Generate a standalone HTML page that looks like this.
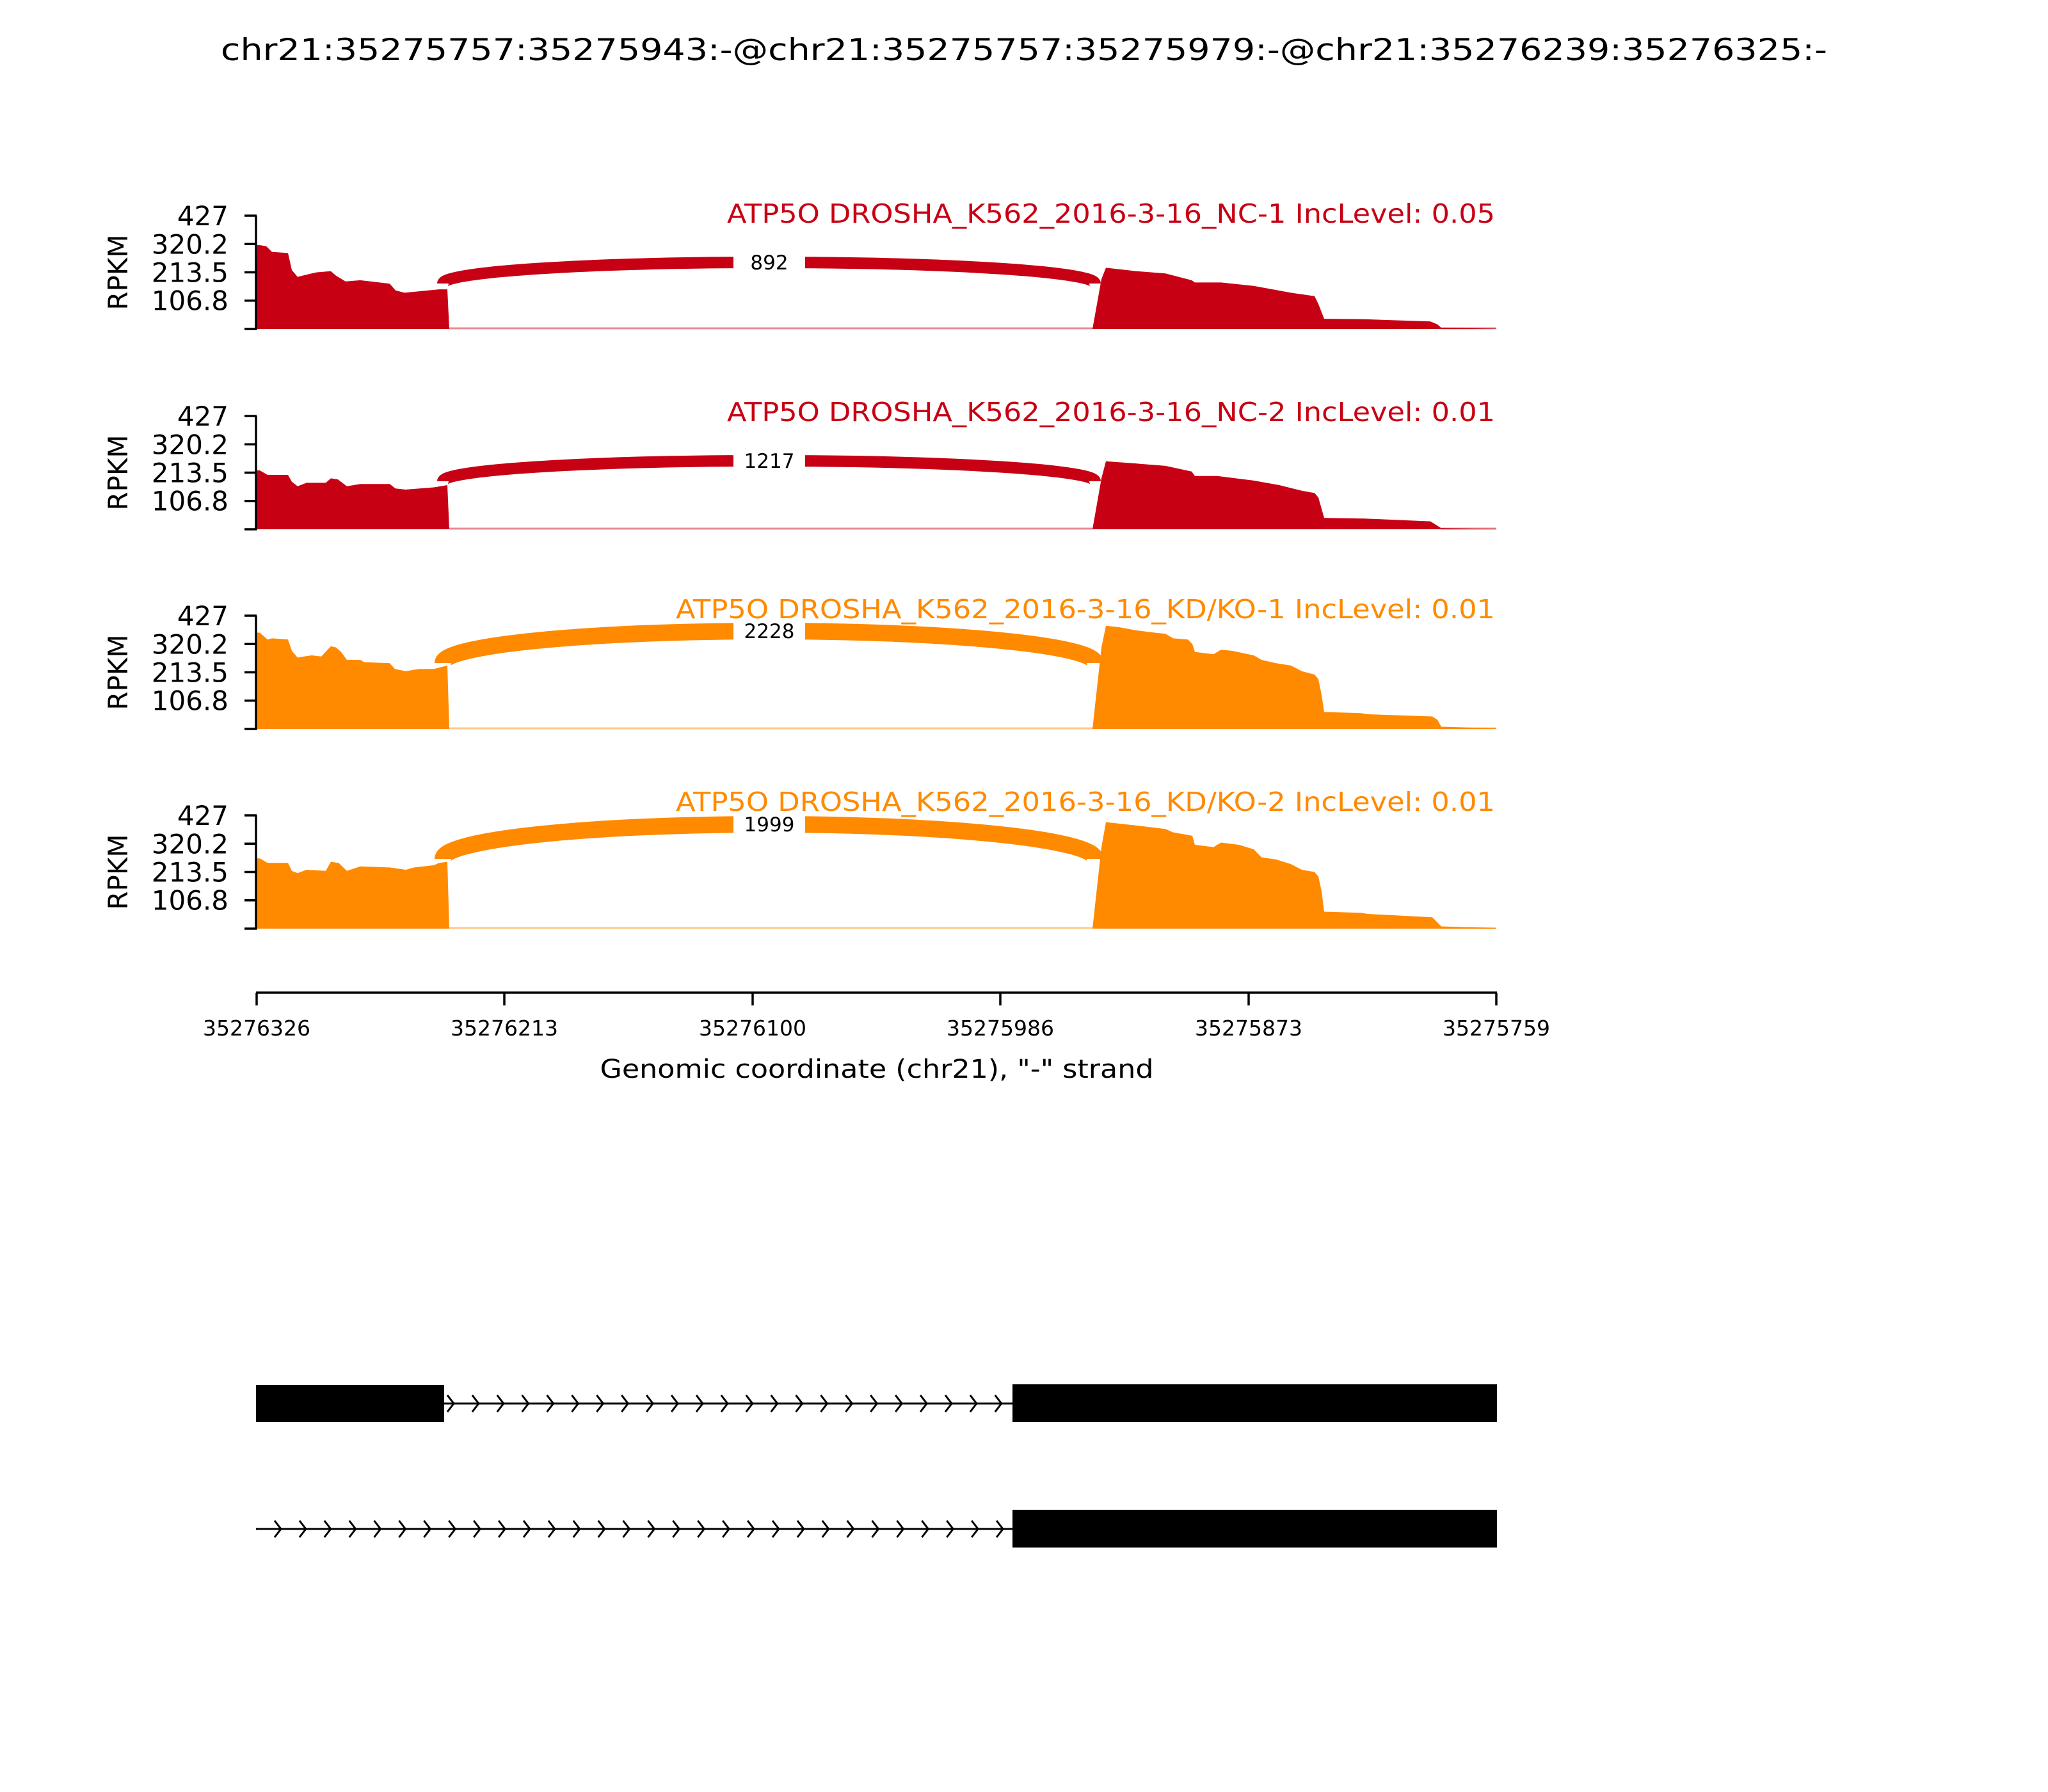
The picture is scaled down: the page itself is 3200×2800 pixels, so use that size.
<!DOCTYPE html>
<html><head><meta charset="utf-8"><style>
html,body{margin:0;padding:0;background:#fff;}
svg{display:block;}
text{font-family:"DejaVu Sans","Liberation Sans",sans-serif;}
</style></head><body>
<svg id="s" xmlns="http://www.w3.org/2000/svg" width="3200" height="2800" viewBox="0 0 3200 2800">
<rect width="3200" height="2800" fill="#fff"/>
<text x="1600" y="94" font-size="47" text-anchor="middle" textLength="2510" lengthAdjust="spacingAndGlyphs">chr21:35275757:35275943:-@chr21:35275757:35275979:-@chr21:35276239:35276325:-</text>
<g id="panels"></g>
<text x="2336" y="348" font-size="41" fill="#c80014" text-anchor="end" textLength="1200" lengthAdjust="spacingAndGlyphs">ATP5O DROSHA_K562_2016-3-16_NC-1 IncLevel: 0.05</text>
<text x="2336" y="658" font-size="41" fill="#c80014" text-anchor="end" textLength="1200" lengthAdjust="spacingAndGlyphs">ATP5O DROSHA_K562_2016-3-16_NC-2 IncLevel: 0.01</text>
<text x="2336" y="966" font-size="41" fill="#ff8a00" text-anchor="end" textLength="1280" lengthAdjust="spacingAndGlyphs">ATP5O DROSHA_K562_2016-3-16_KD/KO-1 IncLevel: 0.01</text>
<text x="2336" y="1267" font-size="41" fill="#ff8a00" text-anchor="end" textLength="1280" lengthAdjust="spacingAndGlyphs">ATP5O DROSHA_K562_2016-3-16_KD/KO-2 IncLevel: 0.01</text>
<line x1="400" y1="1551" x2="2339" y2="1551" stroke="#000" stroke-width="3.5"/>
<g stroke="#000" stroke-width="3.5">
<line x1="401" y1="1551" x2="401" y2="1571"/><line x1="788" y1="1551" x2="788" y2="1571"/>
<line x1="1176" y1="1551" x2="1176" y2="1571"/><line x1="1563" y1="1551" x2="1563" y2="1571"/>
<line x1="1951" y1="1551" x2="1951" y2="1571"/><line x1="2338" y1="1551" x2="2338" y2="1571"/>
</g>
<g font-size="33" text-anchor="middle">
<text x="401" y="1618">35276326</text><text x="788" y="1618">35276213</text>
<text x="1176" y="1618">35276100</text><text x="1563" y="1618">35275986</text>
<text x="1951" y="1618">35275873</text><text x="2338" y="1618">35275759</text>
</g>
<text x="1370" y="1684" font-size="40" text-anchor="middle" textLength="865" lengthAdjust="spacingAndGlyphs">Genomic coordinate (chr21), "-" strand</text>
<g id="genes"></g>
<rect x="400" y="2164" width="294" height="58" fill="#000"/>
<rect x="1582" y="2163" width="757" height="59" fill="#000"/>
<rect x="1582" y="2359" width="757" height="59" fill="#000"/>
</svg>
<script>
(function(){
var NS="http://www.w3.org/2000/svg";
var P=document.getElementById("panels"), G=document.getElementById("genes");
function el(t,a,par){var e=document.createElementNS(NS,t);for(var k in a)e.setAttribute(k,a[k]);(par||P).appendChild(e);return e;}
var H=177;
var panels=[
{base:514,col:"#c80014",arcEnd:443,arcTop:410,sw:18,lab:"892",
L:[[400,0],[402,.74],[406,.74],[416,.73],[425,.68],[450,.67],[456,.52],[465,.46],[487,.49],[495,.5],[517,.51],[525,.47],[540,.42],[563,.43],[609,.40],[618,.34],[632,.32],[686,.35],[699,.35],[702,0]],
R:[[1707,0],[1721,.44],[1728,.54],[1776,.51],[1821,.49],[1862,.43],[1867,.41],[1908,.41],[1959,.38],[2017,.32],[2054,.29],[2060,.22],[2069,.09],[2131,.086],[2235,.066],[2246,.04],[2252,.01],[2338,.003],[2338,0]]},
{base:827,col:"#c80014",arcEnd:752,arcTop:720,sw:18,lab:"1217",
L:[[400,0],[402,.52],[406,.52],[418,.48],[450,.48],[456,.42],[465,.38],[479,.41],[509,.41],[517,.45],[528,.44],[542,.38],[563,.40],[609,.40],[618,.36],[634,.35],[678,.37],[699,.39],[702,0]],
R:[[1707,0],[1721,.45],[1728,.6],[1776,.58],[1821,.56],[1862,.51],[1867,.47],[1902,.47],[1959,.43],[1999,.39],[2034,.34],[2054,.32],[2060,.28],[2069,.1],[2131,.095],[2235,.07],[2252,.01],[2338,.003],[2338,0]]},
{base:1139,col:"#ff8a00",arcEnd:1036,arcTop:986,sw:26,lab:"2228",
L:[[400,0],[402,.85],[406,.85],[418,.79],[425,.8],[450,.79],[456,.69],[465,.63],[475,.64],[487,.65],[502,.64],[517,.73],[525,.72],[533,.68],[542,.61],[563,.61],[569,.59],[609,.58],[617,.53],[634,.51],[655,.53],[678,.53],[699,.56],[702,0]],
R:[[1707,0],[1721,.72],[1728,.91],[1747,.9],[1776,.87],[1804,.85],[1821,.84],[1833,.8],[1856,.79],[1863,.75],[1867,.68],[1896,.66],[1908,.7],[1925,.69],[1959,.65],[1971,.61],[1994,.58],[2017,.56],[2034,.51],[2054,.48],[2060,.44],[2065,.3],[2069,.15],[2126,.14],[2137,.13],[2238,.11],[2246,.08],[2252,.02],[2338,.005],[2338,0]]},
{base:1451,col:"#ff8a00",arcEnd:1342,arcTop:1288,sw:26,lab:"1999",
L:[[400,0],[402,.62],[406,.62],[418,.58],[450,.58],[456,.51],[465,.49],[479,.52],[509,.51],[517,.59],[529,.58],[542,.51],[563,.55],[609,.54],[634,.52],[647,.54],[678,.56],[686,.58],[699,.59],[702,0]],
R:[[1707,0],[1721,.72],[1728,.94],[1776,.91],[1821,.88],[1833,.85],[1863,.82],[1867,.74],[1896,.72],[1908,.76],[1936,.74],[1959,.7],[1971,.63],[1994,.61],[2017,.57],[2034,.52],[2054,.5],[2060,.46],[2065,.33],[2069,.15],[2126,.14],[2137,.13],[2238,.10],[2252,.02],[2338,.005],[2338,0]]}
];
var ticks=[0,106.8,213.5,320.2,427];
panels.forEach(function(p){
  var b=p.base;
  el("line",{x1:702,y1:b-1,x2:1707,y2:b-1,stroke:p.col,"stroke-width":3,opacity:.45});
  el("line",{x1:2252,y1:b-1,x2:2338,y2:b-1,stroke:p.col,"stroke-width":3,opacity:.45});
  [p.L,p.R].forEach(function(arr){
    var d=arr.map(function(q,i){return (i?"L":"M")+q[0]+" "+(b-q[1]*H).toFixed(1);}).join(" ")+"Z";
    el("path",{d:d,fill:p.col});
  });
  var x1=692,x2=1711,rx=(x2-x1)/2,ry=p.arcEnd-p.arcTop;
  el("path",{d:"M"+x1+" "+p.arcEnd+" A"+rx+" "+ry+" 0 0 1 "+x2+" "+p.arcEnd,fill:"none",stroke:p.col,"stroke-width":p.sw});
  el("rect",{x:1146,y:p.arcTop-22,width:112,height:44,fill:"#fff"});
  var t=el("text",{x:1202,y:p.arcTop+11,"font-size":31,"text-anchor":"middle"});t.textContent=p.lab;
  el("line",{x1:400,y1:b-H,x2:400,y2:b+1.5,stroke:"#000","stroke-width":3.5});
  ticks.forEach(function(v){
    var y=b-v/427*H;
    el("line",{x1:382,y1:y,x2:401,y2:y,stroke:"#000","stroke-width":3.5});
    if(v>0){var tt=el("text",{x:357,y:y+15,"font-size":42,"text-anchor":"end"});tt.textContent=(v===427?"427":v.toFixed(1));}
  });
  var r=el("text",{x:0,y:0,"font-size":42,"text-anchor":"middle",transform:"translate(199,"+(b-H/2)+") rotate(-90)"});
  r.textContent="RPKM";
});
function row(xs,xe,y,start){
  el("line",{x1:xs,y1:y,x2:xe,y2:y,stroke:"#000","stroke-width":3},G);
  for(var x=start;x<xe-4;x+=38.9){
    el("polyline",{points:(x-10)+","+(y-13)+" "+x+","+y+" "+(x-10)+","+(y+13),fill:"none",stroke:"#000","stroke-width":3},G);
  }
}
row(694,1582,2193,709);
row(400,1582,2389,439);
})();
</script>
</body></html>
